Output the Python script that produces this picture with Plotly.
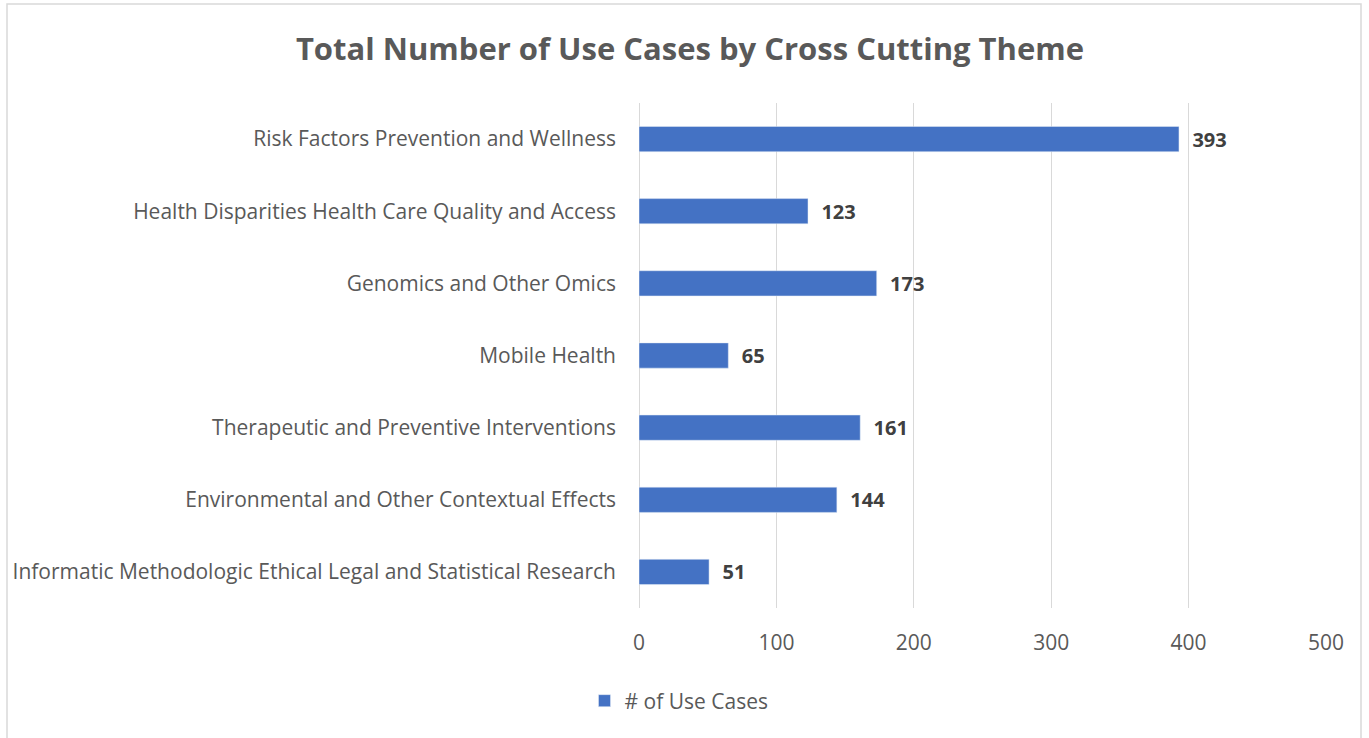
import plotly.graph_objects as go

categories = [
    "Risk Factors Prevention and Wellness",
    "Health Disparities Health Care Quality and Access",
    "Genomics and Other Omics",
    "Mobile Health",
    "Therapeutic and Preventive Interventions",
    "Environmental and Other Contextual Effects",
    "Informatic Methodologic Ethical Legal and Statistical Research",
]
values = [393, 123, 173, 65, 161, 144, 51]
x_ticks = [0, 100, 200, 300, 400, 500]

FONT = "Open Sans"
fig = go.Figure()
fig.add_trace(go.Bar(
    y=categories, x=values, orientation="h",
    name="# of Use Cases",
    marker=dict(color="#4472C4"),
    text=values,
    texttemplate="  <b>%{x}</b>",
    textposition="outside",
    constraintext="none",
    textfont=dict(family=FONT, size=20, color="#404040"),
    cliponaxis=False,
    width=0.35,
))

fig.update_layout(
    width=1369, height=738,
    margin=dict(l=639, r=43, t=103, b=130),
    paper_bgcolor="white", plot_bgcolor="white",
    title=dict(text="<b>Total Number of Use Cases by Cross Cutting Theme</b>",
               x=0.504, xanchor="center", y=1 - 49/738, yanchor="middle",
               font=dict(family=FONT, size=31, color="#595959")),
    xaxis=dict(range=[0, 500], tickvals=x_ticks, showgrid=True,
               gridcolor="#d9d9d9", gridwidth=1, zeroline=True,
               zerolinecolor="#d9d9d9", zerolinewidth=1,
               tickfont=dict(family=FONT, size=21, color="#595959"),
               ticks="", ticklabelstandoff=20, showline=False),
    yaxis=dict(autorange="reversed", tickfont=dict(family=FONT, size=21, color="#595959"),
               ticks="", showline=False, ticklabelstandoff=22),
    showlegend=True,
    legend=dict(orientation="h", x=(679 - 639) / 687, xanchor="center",
                y=(608 - 701) / 505, yanchor="middle",
                font=dict(family=FONT, size=21, color="#595959")),
    shapes=[dict(type="rect", xref="paper", yref="paper",
                 x0=(7 - 639) / 687, x1=(1361 - 639) / 687,
                 y0=(608 - 760) / 505, y1=(608 - 4) / 505,
                 line=dict(color="#d9d9d9", width=1.5), fillcolor="rgba(0,0,0,0)",
                 layer="below")],
)

fig.write_html("out.html")
